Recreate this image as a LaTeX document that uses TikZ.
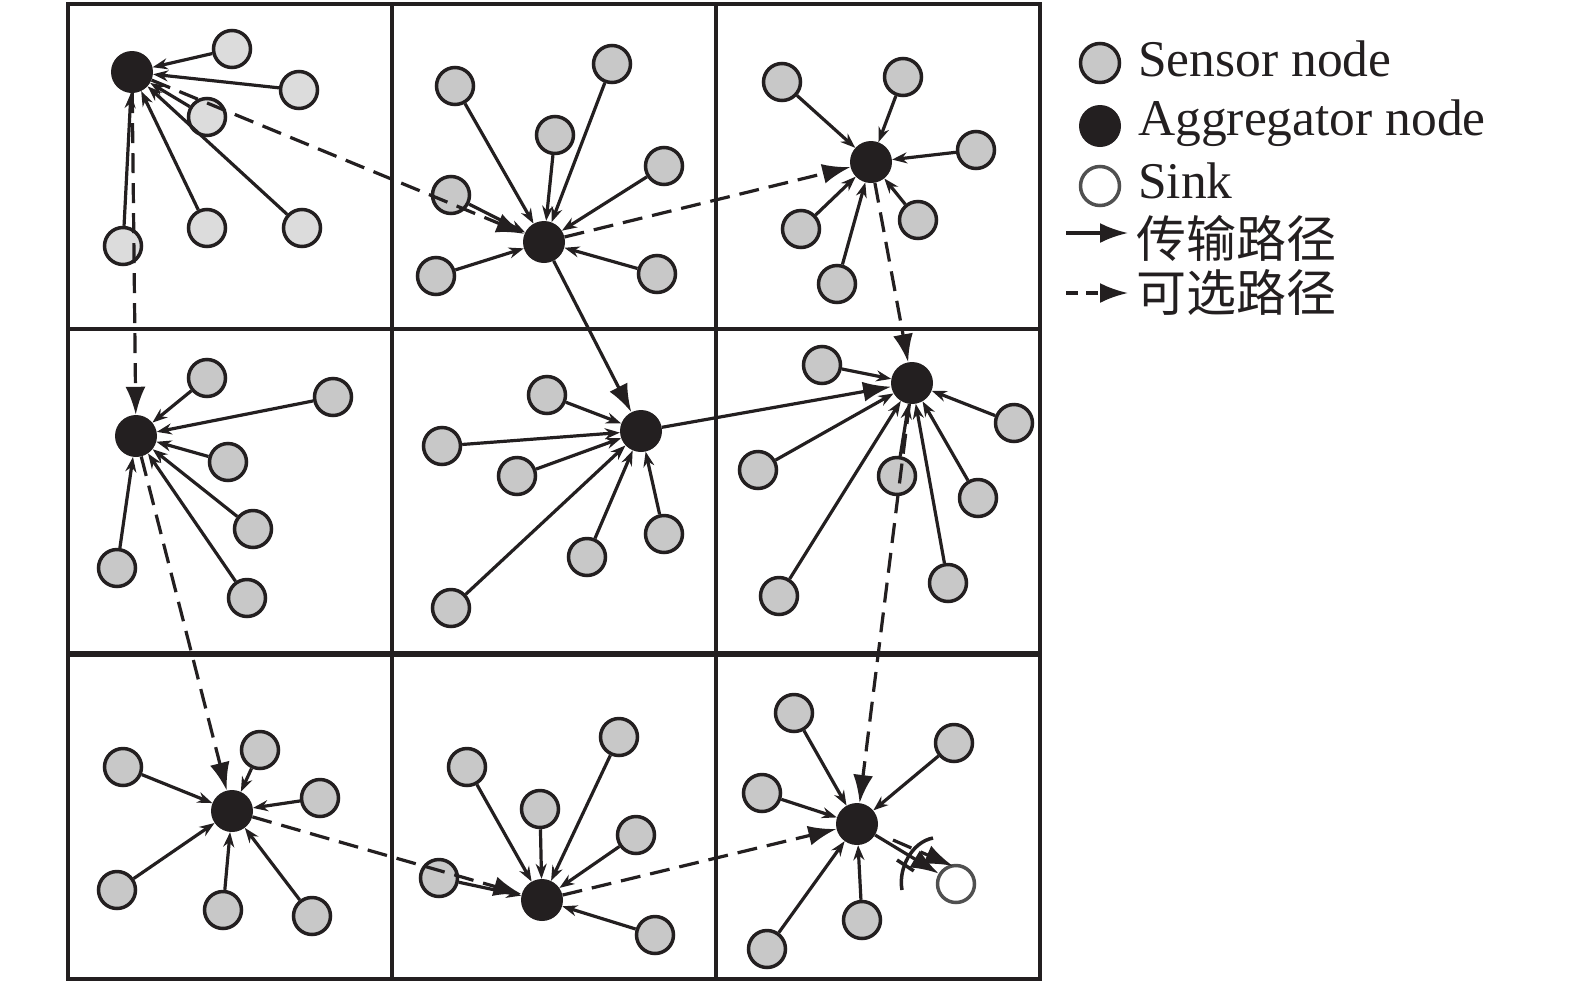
\documentclass[tikz,border=0pt]{standalone}
\usepackage{fontspec}
\setmainfont{Liberation Serif}
\newfontfamily\cjk{Noto Sans CJK SC}
\usetikzlibrary{arrows.meta}

\definecolor{ink}{HTML}{231F20}
\definecolor{sensorgray}{HTML}{C8C8C8}
\definecolor{palegray}{HTML}{DCDCDC}
\definecolor{sinkgray}{HTML}{505050}

\tikzset{
  sensor/.style={circle, draw=ink, fill=sensorgray, line width=3.5pt, minimum size=37pt, inner sep=0pt},
  oldsensor/.style={sensor, fill=palegray},
  agg/.style={circle, fill=ink, minimum size=42pt, inner sep=0pt},
  sinknode/.style={circle, draw=sinkgray, fill=white, line width=3.5pt, minimum size=37pt, inner sep=0pt},
  feed/.style={-{Stealth[length=15pt,width=11pt]}, line width=3.2pt, draw=ink},
  route/.style={-{Latex[length=28pt,width=20pt]}, line width=3.2pt, draw=ink},
  alt/.style={route, dash pattern=on 20pt off 10pt},
  cell/.style={line width=3.5pt, draw=ink},
  legtext/.style={anchor=base west, inner sep=0pt, text=ink, font=\fontsize{51.5}{60}\selectfont},
  legcjk/.style={anchor=west, inner sep=0pt, text=ink, font=\cjk\fontsize{50}{60}\selectfont},
}

\begin{document}
\begin{tikzpicture}[x=1pt,y=-1pt]
\useasboundingbox (0,0) rectangle (1575,986);

% grid
\draw[cell] (68,4) rectangle (1040,979);
\draw[cell] (392,4) -- (392,979);
\draw[cell] (716,4) -- (716,979);
\draw[cell] (68,329) -- (1040,329);
\draw[cell, line width=5.5pt] (68,654) -- (1040,654);

% aggregators
\node[agg] (a1) at (132,72) {};
\node[agg] (a2) at (544,242) {};
\node[agg] (a3) at (871,162) {};
\node[agg] (a4) at (136,436) {};
\node[agg] (a5) at (641,431) {};
\node[agg] (a6) at (912,383) {};
\node[agg] (a7) at (232,811) {};
\node[agg] (a8) at (542,900) {};
\node[agg] (a9) at (857,824) {};
\node[sinknode] (sink) at (956,884) {};

% top left
\node[oldsensor] (s11) at (232,49) {}; \draw[feed] (s11) -- (a1);
\node[oldsensor] (s12) at (299,90) {}; \draw[feed] (s12) -- (a1);
\node[oldsensor] (s13) at (207,117) {}; \draw[feed] (s13) -- (a1);
\node[oldsensor] (s14) at (207,228) {}; \draw[feed] (s14) -- (a1);
\node[oldsensor] (s15) at (302,228) {}; \draw[feed] (s15) -- (a1);
\node[oldsensor] (s16) at (123,246) {}; \draw[feed] (s16) -- (a1);

% top middle
\node[sensor] (s21) at (455,86) {}; \draw[feed] (s21) -- (a2);
\node[sensor] (s22) at (612,64) {}; \draw[feed] (s22) -- (a2);
\node[sensor] (s23) at (555,135) {}; \draw[feed] (s23) -- (a2);
\node[sensor] (s24) at (664,166) {}; \draw[feed] (s24) -- (a2);
\node[sensor] (s25) at (451,195) {}; \draw[feed] (s25) -- (a2);
\node[sensor] (s26) at (436,276) {}; \draw[feed] (s26) -- (a2);
\node[sensor] (s27) at (657,274) {}; \draw[feed] (s27) -- (a2);

% top right
\node[sensor] (s31) at (782,82) {}; \draw[feed] (s31) -- (a3);
\node[sensor] (s32) at (903,77) {}; \draw[feed] (s32) -- (a3);
\node[sensor] (s33) at (976,150) {}; \draw[feed] (s33) -- (a3);
\node[sensor] (s34) at (801,229) {}; \draw[feed] (s34) -- (a3);
\node[sensor] (s35) at (918,220) {}; \draw[feed] (s35) -- (a3);
\node[sensor] (s36) at (837,284) {}; \draw[feed] (s36) -- (a3);

% middle left
\node[sensor] (s41) at (207,378) {}; \draw[feed] (s41) -- (a4);
\node[sensor] (s42) at (333,397) {}; \draw[feed] (s42) -- (a4);
\node[sensor] (s43) at (228,462) {}; \draw[feed] (s43) -- (a4);
\node[sensor] (s44) at (253,529) {}; \draw[feed] (s44) -- (a4);
\node[sensor] (s45) at (247,598) {}; \draw[feed] (s45) -- (a4);
\node[sensor] (s46) at (117,568) {}; \draw[feed] (s46) -- (a4);

% middle
\node[sensor] (s51) at (547,395) {}; \draw[feed] (s51) -- (a5);
\node[sensor] (s52) at (442,446) {}; \draw[feed] (s52) -- (a5);
\node[sensor] (s53) at (517,476) {}; \draw[feed] (s53) -- (a5);
\node[sensor] (s54) at (587,557) {}; \draw[feed] (s54) -- (a5);
\node[sensor] (s55) at (664,534) {}; \draw[feed] (s55) -- (a5);
\node[sensor] (s56) at (451,608) {}; \draw[feed] (s56) -- (a5);

% middle right
\node[sensor] (s61) at (822,365) {}; \draw[feed] (s61) -- (a6);
\node[sensor] (s62) at (758,470) {}; \draw[feed] (s62) -- (a6);
\node[sensor] (s63) at (897,476) {}; \draw[feed] (s63) -- (a6);
\node[sensor] (s64) at (1014,423) {}; \draw[feed] (s64) -- (a6);
\node[sensor] (s65) at (978,498) {}; \draw[feed] (s65) -- (a6);
\node[sensor] (s66) at (948,583) {}; \draw[feed] (s66) -- (a6);
\node[sensor] (s67) at (779,596) {}; \draw[feed] (s67) -- (a6);

% bottom left
\node[sensor] (s71) at (123,767) {}; \draw[feed] (s71) -- (a7);
\node[sensor] (s72) at (260,750) {}; \draw[feed] (s72) -- (a7);
\node[sensor] (s73) at (320,798) {}; \draw[feed] (s73) -- (a7);
\node[sensor] (s74) at (117,890) {}; \draw[feed] (s74) -- (a7);
\node[sensor] (s75) at (223,910) {}; \draw[feed] (s75) -- (a7);
\node[sensor] (s76) at (312,916) {}; \draw[feed] (s76) -- (a7);

% bottom middle
\node[sensor] (s81) at (467,767) {}; \draw[feed] (s81) -- (a8);
\node[sensor] (s82) at (540,809) {}; \draw[feed] (s82) -- (a8);
\node[sensor] (s83) at (619,737) {}; \draw[feed] (s83) -- (a8);
\node[sensor] (s84) at (636,835) {}; \draw[feed] (s84) -- (a8);
\node[sensor] (s85) at (439,878) {}; \draw[feed] (s85) -- (a8);
\node[sensor] (s86) at (655,935) {}; \draw[feed] (s86) -- (a8);

% bottom right
\node[sensor] (s91) at (794,713) {}; \draw[feed] (s91) -- (a9);
\node[sensor] (s92) at (954,743) {}; \draw[feed] (s92) -- (a9);
\node[sensor] (s93) at (762,793) {}; \draw[feed] (s93) -- (a9);
\node[sensor] (s94) at (862,920) {}; \draw[feed] (s94) -- (a9);
\node[sensor] (s95) at (767,949) {}; \draw[feed] (s95) -- (a9);

% transmission path
\draw[route] (a2) -- (a5);
\draw[route] (a5) -- (a6);
\draw[route] (a9) -- (sink);

% alternative paths
\draw[alt] (a1) -- (a2);
\draw[alt] (a2) -- (a3);
\draw[alt] (a3) -- (a6);
\draw[alt] (a1) -- (a4);
\draw[alt] (a4) -- (a7);
\draw[alt] (a7) -- (a8);
\draw[alt] (a8) -- (a9);
\draw[alt] (a6) -- (a9);

% second arrow to the sink
\coordinate (up0) at (893,840);
\coordinate (up1) at (953,866);
\coordinate (lo0) at (897,860);
\coordinate (lo1) at (914,871);
\draw[alt] (up0) -- (up1);
\draw[cell, dash pattern=on 20pt off 10pt] (lo0) -- (lo1);
\draw[cell] (933,838) .. controls (912,842) and (898,868) .. (902,890);

% legend
\node[sensor, minimum size=39pt] (lsen) at (1100,63) {};
\node[agg] (lagg) at (1100,126) {};
\node[sinknode, minimum size=39pt] (lsink) at (1100,186) {};
\node[legtext] (tsen) at (1138,76) {Sensor node};
\node[legtext] (tagg) at (1138,135) {Aggregator node};
\node[legtext] (tsink) at (1138,198) {Sink};
\coordinate (lr0) at (1066,233);
\coordinate (lr1) at (1128,233);
\coordinate (la0) at (1066,293);
\coordinate (la1) at (1128,293);
\draw[route] (lr0) -- (lr1);
\draw[alt, dash pattern=on 12pt off 8pt] (la0) -- (la1);
\node[legcjk] (troute) at (1136,238) {传输路径};
\node[legcjk] (talt) at (1136,292) {可选路径};

\end{tikzpicture}
\end{document}
